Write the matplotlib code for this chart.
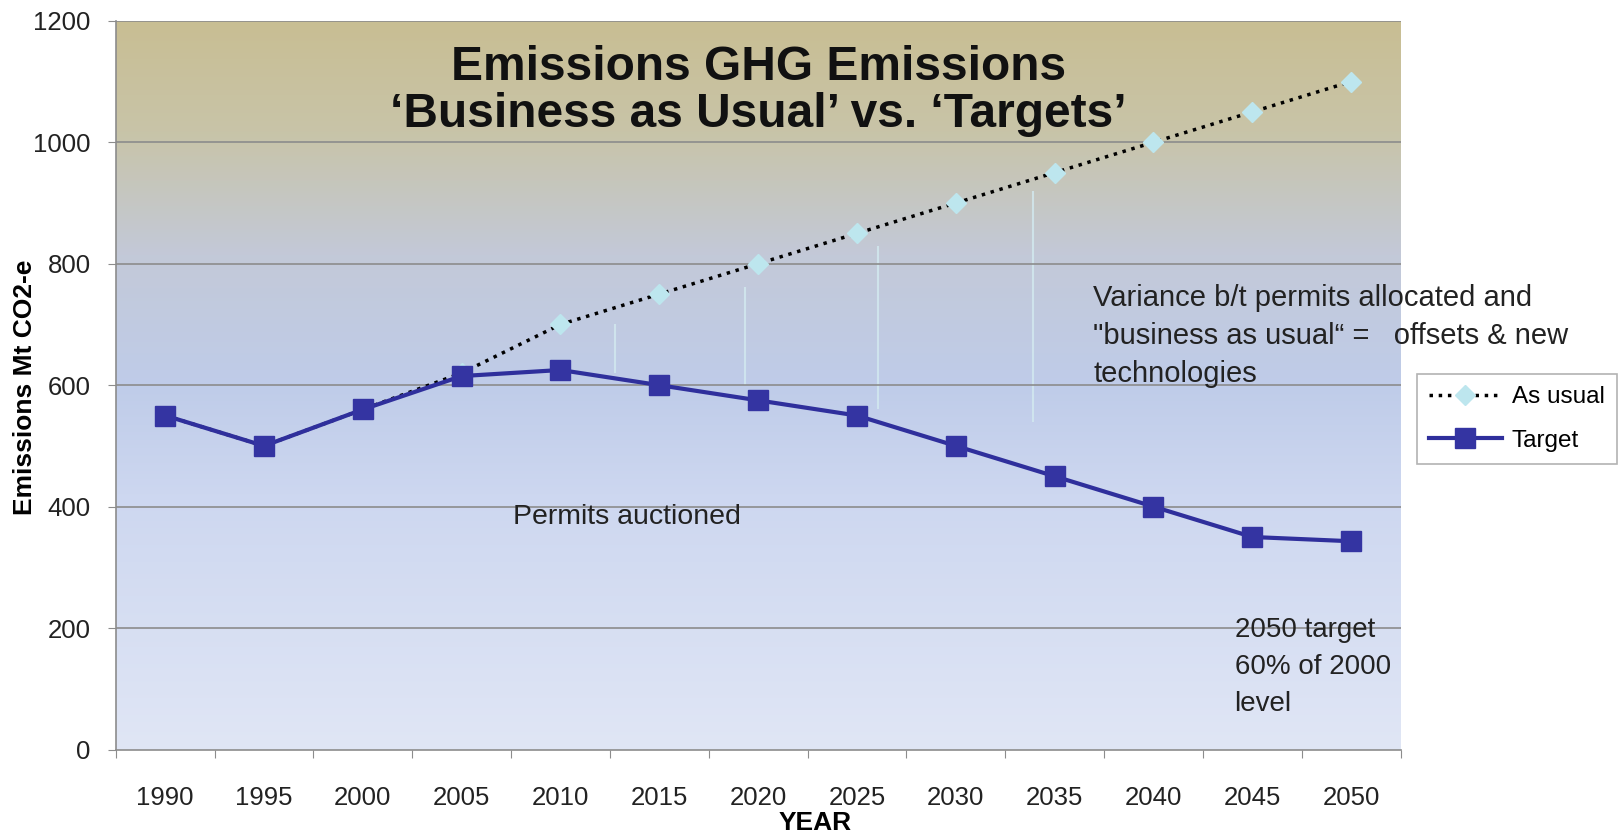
import numpy as np
import matplotlib
matplotlib.use("Agg")
import matplotlib.pyplot as plt
from matplotlib.colors import LinearSegmentedColormap

plt.rcParams['font.family'] = ['Liberation Sans', 'DejaVu Sans']

years = ['1990', '1995', '2000', '2005', '2010', '2015', '2020',
         '2025', '2030', '2035', '2040', '2045', '2050']
as_usual = [550, 500, 560, 620, 700, 750, 800, 850, 900, 950, 1000, 1050, 1100]
target = [550, 500, 560, 615, 625, 600, 575, 550, 500, 450, 400, 350, 343]

# faint variance markers between the two lines (category position, bottom, top)
var_x = [4.55, 5.87, 7.21, 8.78]
var_lo = [620, 600, 560, 540]
var_hi = [700, 762, 830, 920]

fig = plt.figure(figsize=(16.21, 8.33), dpi=100)
ax = fig.add_axes([0.0714, 0.1002, 0.7926, 0.8748])

# background gradient of the plot area
bg = LinearSegmentedColormap.from_list('bg', [
    (0.0, '#e0e6f5'), (0.35, '#cdd7f0'), (0.5, '#bfcce9'),
    (0.68, '#c3c9d8'), (0.85, '#c8c4a8'), (1.0, '#c9be93')])
grad = np.linspace(0, 1, 256).reshape(-1, 1)
ax.imshow(grad, cmap=bg, aspect='auto', origin='lower',
          extent=[0, 1, 0, 1], transform=ax.transAxes, zorder=0)

x = np.arange(len(years))
ax.vlines(var_x, var_lo, var_hi, colors='#d3eaf0', lw=1.5, alpha=0.8, zorder=1)

for yv in range(200, 1201, 200):
    ax.axhline(yv, color='#8c8c8c', lw=1.2, zorder=1)

ax.plot(x, as_usual, ls=':', color='black', lw=2.5, marker='D',
        ms=10, mfc='#bde6ee', mec='#bde6ee', label='As usual', zorder=3)
ax.plot(x, target, ls='-', color='#2f2f9c', lw=3, marker='s',
        ms=14, mfc='#3434a2', mec='#3434a2', label='Target', zorder=4)

ax.set_xlim(-0.5, len(years) - 0.5)
ax.set_ylim(0, 1200)
ax.set_yticks(range(0, 1201, 200))
ax.set_xticks(np.arange(-0.5, len(years), 1.0))
ax.set_xticklabels([])
ax.set_xticks(x, minor=True)
ax.set_xticklabels(years, minor=True)
ax.tick_params(axis='x', which='major', length=6, color='#8c8c8c', direction='out')
ax.tick_params(axis='x', which='minor', length=0, pad=26, labelsize=18.5, labelcolor='#222222')
ax.tick_params(axis='y', length=6, color='#8c8c8c', labelsize=18.5, labelcolor='#222222', pad=12)

for s in ['top', 'right']:
    ax.spines[s].set_visible(False)
for s in ['left', 'bottom']:
    ax.spines[s].set_color('#8c8c8c')
    ax.spines[s].set_linewidth(1.2)

ax.set_ylabel('Emissions Mt CO2-e', fontsize=19, fontweight='bold', va='center')
ax.yaxis.set_label_coords(-0.071, 0.497)
ax.set_xlabel('YEAR', fontsize=19, fontweight='bold', va='center')
ax.xaxis.set_label_coords(0.544, -0.1015)

ax.text(0.5, 0.967, "Emissions GHG Emissions\n\u2018Business as Usual\u2019 vs. \u2018Targets\u2019",
        transform=ax.transAxes, ha='center', va='top', fontsize=34.5,
        fontweight='bold', color='#111111', linespacing=1.05)

ax.text(9.39, 766, 'Variance b/t permits allocated and\n"business as usual\u201c =   offsets & new\ntechnologies',
        fontsize=21, va='top', ha='left', color='#222222', linespacing=1.45)
ax.text(3.52, 383, 'Permits auctioned', fontsize=20.5, va='center', ha='left', color='#222222')
ax.text(10.82, 218, '2050 target\n60% of 2000\nlevel', fontsize=20, va='top',
        ha='left', color='#222222', linespacing=1.55)

leg = ax.legend(loc='center left', bbox_to_anchor=(0.874, 0.497),
                bbox_transform=fig.transFigure, fontsize=17.5, frameon=True,
                fancybox=False, edgecolor='#a0a0a0', handlelength=3.0,
                handletextpad=0.4, borderpad=0.5, labelspacing=0.9,
                borderaxespad=0)
leg.get_frame().set_linewidth(1.2)

fig.savefig('out.png', dpi=100)
